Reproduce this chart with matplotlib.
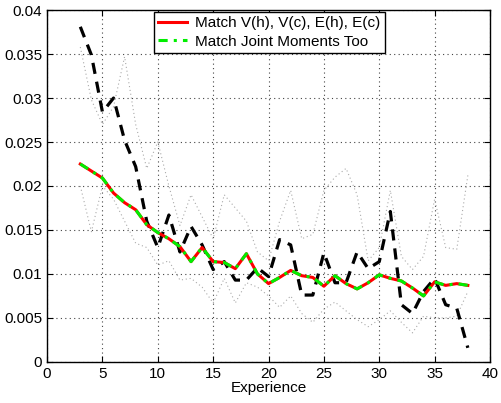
import numpy as np
import matplotlib.pyplot as plt

plt.rcParams['font.family'] = ['Liberation Sans', 'DejaVu Sans']

experience = np.arange(3, 39)

# model fits (both nearly identical)
match_vh = [0.0225, 0.0217, 0.0209, 0.0192, 0.0181, 0.0173, 0.0156, 0.0147,
            0.0140, 0.0131, 0.0114, 0.0130, 0.0114, 0.0113, 0.0106, 0.0123,
            0.0100, 0.0089, 0.0096, 0.0104, 0.0098, 0.0096, 0.0086, 0.0098,
            0.0089, 0.0083, 0.0090, 0.0099, 0.0095, 0.0092, 0.0084, 0.0075,
            0.0091, 0.0087, 0.0089, 0.0087]
match_joint = [0.0225, 0.0217, 0.0209, 0.0192, 0.0181, 0.0173, 0.0156, 0.0147,
               0.0140, 0.0131, 0.0114, 0.0130, 0.0114, 0.0113, 0.0106, 0.0123,
               0.0100, 0.0089, 0.0096, 0.0104, 0.0098, 0.0096, 0.0086, 0.0098,
               0.0089, 0.0083, 0.0090, 0.0099, 0.0095, 0.0092, 0.0084, 0.0075,
               0.0091, 0.0087, 0.0089, 0.0087]

# data
data = [0.0381, 0.0349, 0.0284, 0.0300, 0.0252, 0.0222, 0.0160, 0.0130,
        0.0167, 0.0125, 0.0154, 0.0133, 0.0105, 0.0114, 0.0093, 0.0093,
        0.0107, 0.0097, 0.0139, 0.0133, 0.0076, 0.0076, 0.0124, 0.0090,
        0.0090, 0.0125, 0.0106, 0.0114, 0.0171, 0.0065, 0.0055, 0.0080,
        0.0095, 0.0065, 0.0061, 0.0016]

# confidence bands
upper = [0.0358, 0.0298, 0.0270, 0.0290, 0.0347, 0.0270, 0.0220, 0.0250,
         0.0200, 0.0155, 0.0190, 0.0165, 0.0140, 0.0190, 0.0175, 0.0160,
         0.0125, 0.0115, 0.0160, 0.0195, 0.0140, 0.0145, 0.0195, 0.0210,
         0.0220, 0.0190, 0.0115, 0.0130, 0.0195, 0.0120, 0.0105, 0.0120,
         0.0185, 0.0130, 0.0128, 0.0212]
lower = [0.0200, 0.0148, 0.0200, 0.0185, 0.0160, 0.0135, 0.0130, 0.0110,
         0.0115, 0.0093, 0.0095, 0.0085, 0.0067, 0.0095, 0.0067, 0.0090,
         0.0085, 0.0075, 0.0062, 0.0075, 0.0055, 0.0045, 0.0060, 0.0068,
         0.0058, 0.0048, 0.0040, 0.0048, 0.0058, 0.0045, 0.0033, 0.0052,
         0.0050, 0.0050, 0.0052, 0.0080]

fig = plt.figure(figsize=(5.01, 4.03), dpi=100)
ax = fig.add_axes([0.094, 0.102, 0.884, 0.873])

ax.plot(experience, upper, color='#aaaaaa', linestyle=(0, (1, 2.5)), linewidth=0.8)
ax.plot(experience, lower, color='#aaaaaa', linestyle=(0, (1, 2.5)), linewidth=0.8)
ax.plot(experience, data, color='black', linestyle=(0, (3.5, 2.5)), linewidth=2.3)
ax.plot(experience, match_vh, color='red', linewidth=2.2,
        label='Match V(h), V(c), E(h), E(c)')
ax.plot(experience, match_joint, color='#00ee00', linewidth=2.2,
        linestyle=(0, (3, 2, 1, 2)), label='Match Joint Moments Too')

ax.set_xlim(0, 40)
ax.set_ylim(0, 0.04)
ax.set_xticks(np.arange(0, 41, 5))
yt = np.arange(0, 0.0401, 0.005)
ax.set_yticks(yt)
ax.set_yticklabels(['0', '0.005', '0.01', '0.015', '0.02', '0.025',
                    '0.03', '0.035', '0.04'])
ax.tick_params(direction='in', top=True, right=True, labelsize=11, length=4)
ax.grid(True, color='#444444', linestyle=(0, (1, 3)), linewidth=0.8)
for s in ax.spines.values():
    s.set_linewidth(1.0)

ax.set_xlabel('Experience', fontsize=11, labelpad=0)

leg = ax.legend(loc='upper center', bbox_to_anchor=(0.502, 1.0), fontsize=11,
                fancybox=False, edgecolor='black', framealpha=1,
                handlelength=1.9, borderpad=0.3, labelspacing=0.3,
                handletextpad=0.5, borderaxespad=0.1)
leg.get_frame().set_linewidth(1.0)

fig.savefig('out.png', dpi=100)
